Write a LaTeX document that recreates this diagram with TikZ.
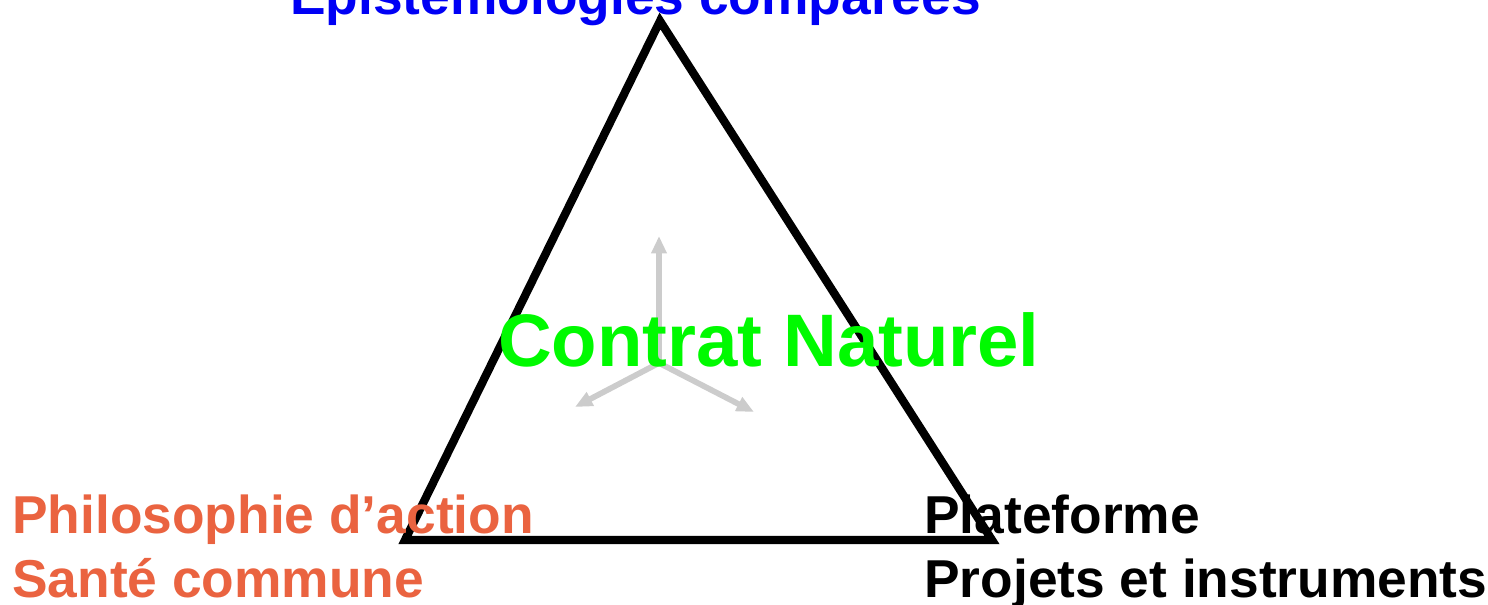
\documentclass[tikz,border=0pt]{standalone}
\usepackage{fontspec}
\setmainfont{Liberation Sans}
\usetikzlibrary{arrows.meta}
\definecolor{epblue}{RGB}{0,0,245}
\definecolor{phorange}{RGB}{234,99,64}
\definecolor{cngreen}{RGB}{0,250,0}
\definecolor{arrgray}{RGB}{204,204,204}
\tikzset{
  lbl/.style={inner sep=0pt, anchor=base west, font=\bfseries\fontsize{40}{48}\selectfont},
  tri/.style={line width=6.2pt, miter limit=20, line join=miter},
  garrow/.style={draw=arrgray, line width=4.3pt, -{Triangle[length=13pt,width=11pt]}}
}
\begin{document}
\begin{tikzpicture}[x=0.75pt,y=-0.75pt]
\useasboundingbox (0,0) rectangle (1488,605);
\coordinate (top) at (660,21);
\coordinate (bl) at (405,540);
\coordinate (br) at (992,540);
\draw[tri] (top) -- (bl) -- (br) -- cycle;
\coordinate (c) at (659,363);
\coordinate (au) at (659,236);
\coordinate (al) at (575,407);
\coordinate (ar) at (754,412);
\draw[garrow] (c) -- (au);
\draw[garrow] (c) -- (al);
\draw[garrow] (c) -- (ar);
\node[lbl, text=cngreen, font=\bfseries\fontsize{55.8}{60}\selectfont] (cn) at (498,367) {Contrat Naturel};
\node[lbl, text=epblue] (ep) at (290,15) {Epistémologies comparées};
\node[lbl, text=phorange] (ph) at (12,533) {Philosophie d’action};
\node[lbl, text=phorange] (sc) at (12,597) {Santé commune};
\node[lbl, text=black] (pl) at (924,533) {Plateforme};
\node[lbl, text=black] (pr) at (924,597) {Projets et instruments};
\end{tikzpicture}
\end{document}
